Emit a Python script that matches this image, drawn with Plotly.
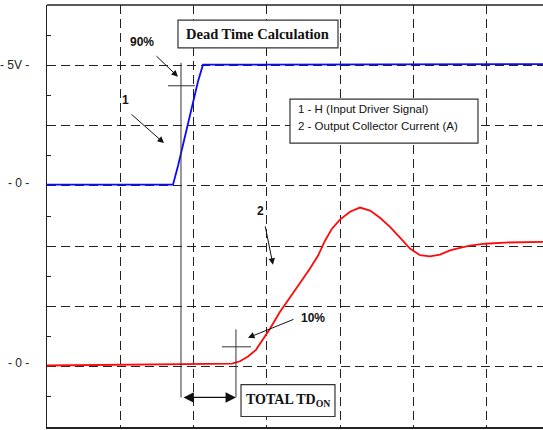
import plotly.graph_objects as go

# ---- data (x, y in screen divisions) ----
blue_x = [0.000, 1.705, 1.719, 1.787, 1.883, 1.978, 2.060, 2.128, 6.767]
blue_y = [4.02, 4.02, 4.02, 4.33, 4.81, 5.31, 5.73, 6.01, 6.02]

red_x = [0.000, 1.000, 2.000, 2.524, 2.633, 2.742, 2.851, 2.947, 3.042, 3.179,
         3.315, 3.452, 3.588, 3.697, 3.793, 3.888, 3.997, 4.134, 4.270, 4.407,
         4.543, 4.679, 4.816, 4.952, 5.089, 5.225, 5.362, 5.498, 5.634, 5.771,
         5.975, 6.248, 6.767]
red_y = [1.02, 1.03, 1.04, 1.05, 1.09, 1.17, 1.28, 1.45, 1.63, 1.91,
         2.16, 2.39, 2.63, 2.84, 3.09, 3.29, 3.44, 3.57, 3.64, 3.59,
         3.47, 3.32, 3.14, 2.96, 2.85, 2.83, 2.86, 2.93, 2.97, 3.01,
         3.04, 3.06, 3.07]

ytick_vals = [6.0, 4.05, 1.06]
ytick_text = ["- 5V -", "- 0 -", "- 0 -"]

NARROW = "Liberation Sans Narrow, Arial Narrow, Liberation Sans, Arial, sans-serif"
SANS = "Liberation Sans, Arial, sans-serif"
SERIF = "Liberation Serif, Times New Roman, serif"

fig = go.Figure()
fig.add_trace(go.Scatter(x=blue_x, y=blue_y, mode="lines",
                         line=dict(color="#0a0aff", width=1.8), hoverinfo="skip"))
fig.add_trace(go.Scatter(x=red_x, y=red_y, mode="lines",
                         line=dict(color="#ff0a0a", width=1.8), hoverinfo="skip"))

shapes = []
# top border
shapes.append(dict(type="line", xref="paper", yref="paper", x0=0, x1=1, y0=1, y1=1,
                   line=dict(color="#222", width=1.5)))
# measurement lines
for (x0, y0, x1, y1) in [(1.828, 6.04, 1.828, 0.49), (1.651, 5.66, 2.019, 5.66),
                         (2.578, 1.62, 2.578, 0.49), (2.387, 1.33, 2.783, 1.33)]:
    shapes.append(dict(type="line", xref="x", yref="y", x0=x0, y0=y0, x1=x1, y1=y1,
                       line=dict(color="#333", width=1)))
# boxes
for (x0, y0, x1, y1) in [(1.787, 6.29, 3.970, 6.75), (2.647, 0.174, 3.929, 0.704),
                         (3.315, 4.71, 5.880, 5.44)]:
    shapes.append(dict(type="rect", xref="x", yref="y", x0=x0, y0=y0, x1=x1, y1=y1,
                       line=dict(color="#333", width=1.2), fillcolor="white", layer="above"))

ann = []
# arrows (head at x,y; tail offset ax, ay in px)
for (x, y, ax, ay) in [(1.787, 5.81, -23, -22), (1.596, 4.71, -34, -30),
                       (3.083, 2.69, -8, -40), (2.742, 1.48, 47, -19)]:
    ann.append(dict(x=x, y=y, xref="x", yref="y", ax=ax, ay=ay, text="", showarrow=True,
                    arrowhead=2, arrowsize=1.3, arrowwidth=1, arrowcolor="#111", standoff=0))
# double arrow
ann.append(dict(x=2.578, y=0.49, xref="x", yref="y", ax=-54, ay=0, text="", showarrow=True,
                arrowhead=2, arrowsize=1.6, arrowwidth=1.3, arrowcolor="#111",
                arrowside="end+start", startarrowhead=2, startarrowsize=1.6,
                standoff=0, startstandoff=0))
# labels
for (x, y, t) in [(1.300, 6.39, "90%"), (1.077, 5.43, "1"), (2.906, 3.58, "2"),
                  (3.629, 1.81, "10%")]:
    ann.append(dict(x=x, y=y, xref="x", yref="y", text="<b>" + t + "</b>", showarrow=False,
                    font=dict(family=SANS, size=12, color="#111")))
ann.append(dict(x=(1.787 + 3.970) / 2, y=(6.29 + 6.75) / 2, xref="x", yref="y",
                text="<b>Dead Time Calculation</b>", showarrow=False,
                font=dict(family=SERIF, size=14.5, color="#111")))
ann.append(dict(x=(2.647 + 3.929) / 2, y=(0.174 + 0.704) / 2, xref="x", yref="y",
                text="<b>TOTAL TD<sub>ON</sub></b>", showarrow=False,
                font=dict(family=SERIF, size=14, color="#111")))
ann.append(dict(x=3.40, y=5.27, xref="x", yref="y", xanchor="left",
                text="1 - H (Input Driver Signal)", showarrow=False,
                font=dict(family=NARROW, size=11.5, color="#111")))
ann.append(dict(x=3.40, y=4.99, xref="x", yref="y", xanchor="left",
                text="2 - Output Collector Current (A)", showarrow=False,
                font=dict(family=NARROW, size=11.5, color="#111")))
for v, t in zip(ytick_vals, ytick_text):
    ann.append(dict(x=0, y=v, xref="paper", yref="y", xanchor="right", xshift=-16,
                    text=t, showarrow=False, font=dict(family=NARROW, size=12, color="#222")))

fig.update_layout(
    width=543, height=430,
    margin=dict(l=47, r=0, t=5, b=3),
    paper_bgcolor="white", plot_bgcolor="white",
    showlegend=False,
    shapes=shapes, annotations=ann,
    xaxis=dict(range=[0, 6.767], dtick=1, tick0=0, showgrid=True, griddash="9px,5px",
               gridcolor="#222", gridwidth=1.2, zeroline=False, showticklabels=False,
               ticks="", showline=True, linecolor="#222", linewidth=1.5, fixedrange=True),
    yaxis=dict(range=[0, 7], dtick=1, tick0=0, showgrid=True, griddash="9px,5px",
               gridcolor="#222", gridwidth=1.2, zeroline=False, showticklabels=False,
               ticks="", showline=True, linecolor="#222", linewidth=1.5,
               minor=dict(dtick=0.5, tick0=0, ticks="inside", ticklen=4, tickcolor="#222",
                          showgrid=False),
               fixedrange=True),
)

fig.write_html("out.html", config={"displayModeBar": False, "staticPlot": True},
               post_script="document.body.style.margin='0';")
